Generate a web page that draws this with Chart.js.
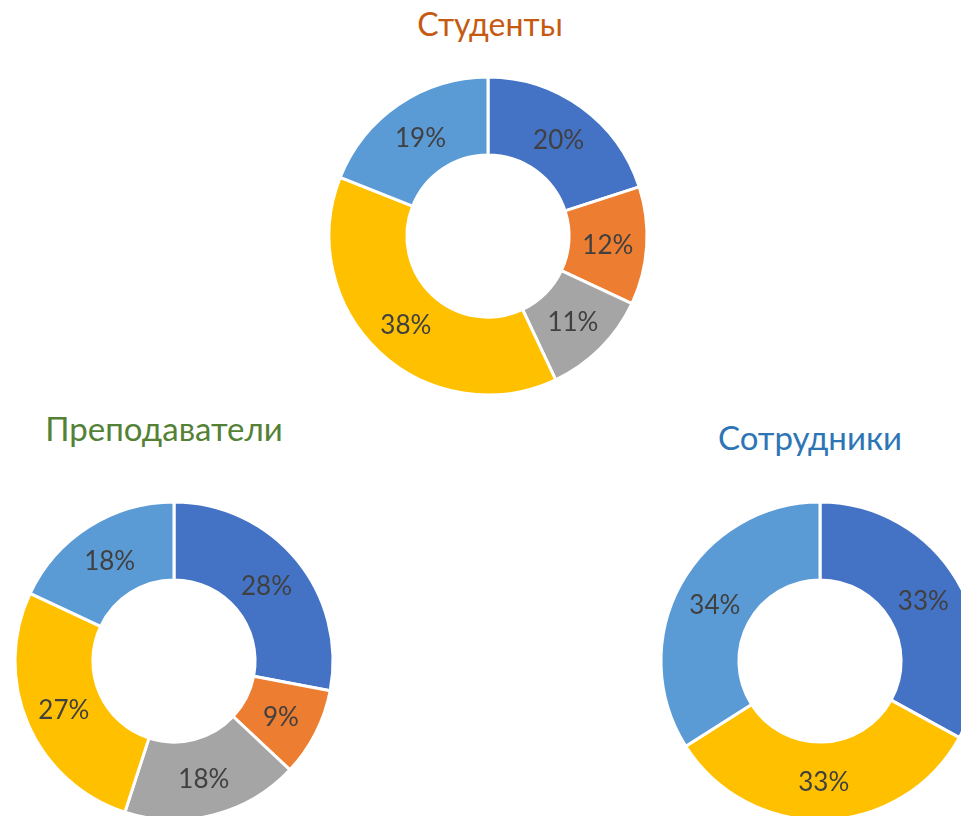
<!DOCTYPE html>
<html>
<head>
<meta charset="utf-8">
<script src="https://cdn.jsdelivr.net/npm/chart.js@4/dist/chart.umd.min.js"></script>
<style>
  html, body { margin: 0; padding: 0; background: #fff; width: 961px; height: 816px; overflow: hidden; }
  body { position: relative; }
  canvas { position: absolute; }
  .title { position: absolute; font-family: Lato, "Open Sans", sans-serif; font-size: 33px; white-space: nowrap; transform: translate(-50%, -50%); line-height: 1; }
</style>
</head>
<body>
<div class="title" id="t1" style="left:490px; top:24px; color:#C55A11; font-size:32px;"></div>
<div class="title" id="t2" style="left:164px; top:428px; color:#538135;"></div>
<div class="title" id="t3" style="left:810px; top:437px; color:#2E75B6;"></div>
<canvas id="c1" width="340" height="340" style="left:318px; top:66px;"></canvas>
<canvas id="c2" width="340" height="340" style="left:4px; top:491px;"></canvas>
<canvas id="c3" width="340" height="340" style="left:650px; top:491px;"></canvas>
<script>
const categories = ["Кат. 1", "Кат. 2", "Кат. 3", "Кат. 4", "Кат. 5"];
const titles = ["Студенты", "Преподаватели", "Сотрудники"];
const studentsValues = [20, 12, 11, 38, 19];
const teachersValues = [28, 9, 18, 27, 18];
const staffValues = [33, 0, 0, 33, 34];
const colors = ["#4472C4", "#ED7D31", "#A5A5A5", "#FFC000", "#5B9BD5"];

document.getElementById('t1').textContent = titles[0];
document.getElementById('t2').textContent = titles[1];
document.getElementById('t3').textContent = titles[2];

const labelPlugin = {
  id: 'pctLabels',
  afterDatasetsDraw(chart) {
    const ctx = chart.ctx;
    const meta = chart.getDatasetMeta(0);
    const data = chart.data.datasets[0].data;
    ctx.save();
    ctx.font = '26px Lato, "Open Sans", sans-serif';
    ctx.fillStyle = '#404040';
    ctx.textAlign = 'center';
    ctx.textBaseline = 'middle';
    meta.data.forEach((arc, i) => {
      if (!data[i]) return;
      const p = arc.getCenterPoint();
      ctx.fillText(data[i] + '%', p.x, p.y + 2);
    });
    ctx.restore();
  }
};

function makeChart(id, values) {
  return new Chart(document.getElementById(id), {
    type: 'doughnut',
    data: {
      labels: categories,
      datasets: [{
        data: values,
        backgroundColor: colors,
        borderColor: '#ffffff',
        borderWidth: 3,
        hoverOffset: 0
      }]
    },
    options: {
      responsive: false,
      animation: false,
      radius: 159,
      cutout: '51%',
      layout: { padding: 0 },
      plugins: { legend: { display: false }, tooltip: { enabled: false }, title: { display: false } }
    },
    plugins: [labelPlugin]
  });
}

makeChart('c1', studentsValues);
makeChart('c2', teachersValues);
makeChart('c3', staffValues);
</script>
</body>
</html>
